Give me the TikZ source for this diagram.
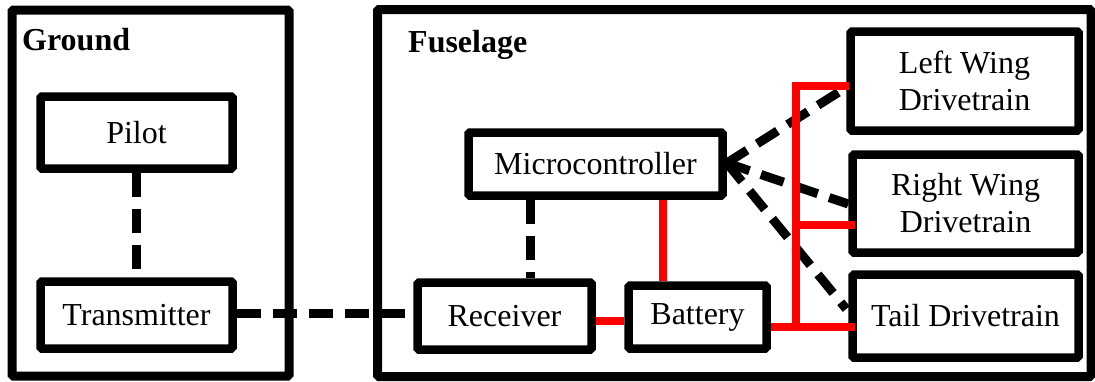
\documentclass[tikz,border=0pt]{standalone}
\usepackage{fontspec}
\setmainfont{Liberation Serif}
\usetikzlibrary{calc}
\begin{document}
\begin{tikzpicture}[x=1pt,y=-1pt,
  blk/.style={draw, line width=8.5pt, rounded corners=1.5pt, inner sep=0pt,
    font=\fontsize{32}{37}\selectfont, align=center},
  frame/.style={draw, line width=9pt, rounded corners=1.5pt, inner sep=0pt, outer sep=0pt, anchor=north west},
  lbl/.style={font=\fontsize{32}{37}\selectfont\bfseries, anchor=base west, inner sep=0pt},
  dsh/.style={line width=9pt, dash pattern=on 24pt off 12pt},
  pwr/.style={line width=8pt, red}]
\useasboundingbox (0,0) rectangle (1095,381);
% frames
\node[frame, minimum width=277pt, minimum height=366pt] (ground) at (12,10) {};
\node[frame, minimum width=713.5pt, minimum height=367pt] (fuse) at (377.5,9.5) {};
\node[lbl] (gl) at (22,50) {Ground};
\node[lbl] (fl) at (408,52) {Fuselage};
% blocks
\node[blk, minimum width=192pt, minimum height=72pt] (pilot) at (136.5,132.5) {Pilot};
\node[blk, minimum width=192pt, minimum height=67pt] (trans) at (136.5,315) {Transmitter};
\node[blk, minimum width=254pt, minimum height=63pt] (micro) at (595.5,164) {Microcontroller};
\node[blk, minimum width=174pt, minimum height=67pt] (recv) at (504.5,316) {Receiver};
\node[blk, minimum width=138pt, minimum height=63pt] (batt) at (697.5,317) {Battery};
\node[blk, minimum width=228pt, minimum height=99pt] (lw) at (964.5,81) {Left Wing\\Drivetrain};
\node[blk, minimum width=226pt, minimum height=98pt] (rw) at (965.5,203.5) {Right Wing\\Drivetrain};
\node[blk, minimum width=226pt, minimum height=83pt] (tail) at (965.5,316) {Tail Drivetrain};
% helper coordinates
\coordinate (ty) at (0,313);
\coordinate (mr) at (530,0);
\coordinate (mb) at (663,0);
\coordinate (rb) at (0,321);
\coordinate (bt) at (0,327);
\coordinate (bus) at (796,0);
\coordinate (yl) at (0,86);
\coordinate (yr) at (0,225);
\coordinate (mp) at ($(micro.east)+(0,-1)$);
% data links
\draw[dsh] (pilot) -- (trans);
\draw[dsh] (trans.east |- ty) -- (recv.west |- ty);
\draw[dsh] (micro.south -| mr) -- (recv.north -| mr);
\draw[dsh] (mp) -- ($(lw.west)+(-1,7)$);
\draw[dsh] (mp) -- ($(rw.west)+(0,0.5)$);
\draw[dsh] (mp) -- ($(tail.west)+(-2,-7)$);
% power links
\draw[pwr] (micro.south -| mb) -- (batt.north -| mb);
\draw[pwr] (recv.east |- rb) -- (batt.west |- rb);
\draw[pwr] (batt.east |- bt) -- ($(tail.west |- bt)+(7,0)$);
\draw[pwr] ($(lw.west |- yl)+(3,0)$) -- (bus |- yl) -- (bus |- bt);
\draw[pwr] (bus |- yr) -- ($(rw.west |- yr)+(7,0)$);
\end{tikzpicture}
\end{document}
